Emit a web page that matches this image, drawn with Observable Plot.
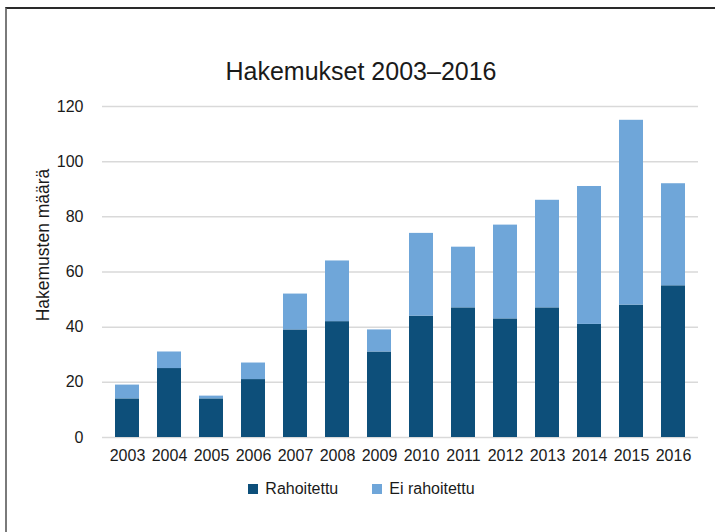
<!DOCTYPE html>
<html>
<head>
<meta charset="utf-8">
<script src="https://cdn.jsdelivr.net/npm/d3@7"></script>
<script src="https://cdn.jsdelivr.net/npm/@observablehq/plot@0.6"></script>
<style>
  html, body { margin: 0; padding: 0; background: #fff; overflow: hidden; }
  body { font-family: "Liberation Sans", Arial, sans-serif; }
  #wrap { position: relative; width: 715px; height: 532px; overflow: hidden; background: #fff; }
  #frame { position: absolute; left: 5px; top: 7px; width: 710px; height: 525px;
           border-top: 2px solid #2a2a2a; border-left: 2px solid #7a7a7a; box-sizing: border-box; }
  #title { position: absolute; left: 0; width: 722px; top: 57px; text-align: center;
           font-size: 25px; color: #1a1a1a; line-height: normal; }
  #chart { position: absolute; left: 0; top: 90px; }
  #legend { position: absolute; left: 0; top: 480px; width: 715px; display: flex; justify-content: center;
            font-size: 16px; color: #1a1a1a; padding-left: 8px; box-sizing: border-box; }
  .item { display: flex; align-items: center; margin: 0 17px; }
  .sw { width: 10px; height: 10px; margin-right: 7px; }
</style>
</head>
<body>
<div id="wrap">
  <div id="frame"></div>
  <div id="title">Hakemukset 2003–2016</div>
  <div id="chart"></div>
  <div id="legend"></div>
</div>
<script>
const years = ["2003","2004","2005","2006","2007","2008","2009","2010","2011","2012","2013","2014","2015","2016"];
const funded    = [14, 25, 14, 21, 39, 42, 31, 44, 47, 43, 47, 41, 48, 55];
const notFunded = [ 5,  6,  1,  6, 13, 22,  8, 30, 22, 34, 39, 50, 67, 37];
const seriesNames = ["Rahoitettu", "Ei rahoitettu"];
const seriesColors = ["#0d4f7a", "#6fa6d9"];
const yTicks = [0, 20, 40, 60, 80, 100, 120];
const yLabel = "Hakemusten määrä";

const table = [];
years.forEach((y, i) => {
  table.push({year: y, series: seriesNames[0], value: funded[i]});
  table.push({year: y, series: seriesNames[1], value: notFunded[i]});
});

const chart = Plot.plot({
  width: 715,
  height: 380,
  marginTop: 16,
  marginBottom: 33,
  marginLeft: 102,
  marginRight: 17,
  style: {fontFamily: "'Liberation Sans', Arial, sans-serif", fontSize: "16px", color: "#1a1a1a", background: "transparent"},
  x: {domain: years, paddingInner: 0.42, paddingOuter: 0.21, label: null},
  y: {domain: [0, 120], label: null},
  color: {domain: seriesNames, range: seriesColors},
  marks: [
    Plot.gridY(yTicks, {stroke: "#d9d9d9", strokeOpacity: 1, strokeWidth: 1.5}),
    Plot.barY(table, Plot.stackY({order: seriesNames, x: "year", y: "value", fill: "series"})),
    Plot.axisX({tickSize: 0, tickPadding: 12, fontSize: 16, fill: "#1a1a1a"}),
    Plot.axisY(yTicks, {tickSize: 0, tickPadding: 19, fontSize: 16, fill: "#1a1a1a"}),
    Plot.text([yLabel], {text: d => d, frameAnchor: "left", textAnchor: "middle", rotate: -90, dx: -59, dy: -27, fontSize: 17.5, fill: "#1a1a1a"})
  ]
});
document.getElementById("chart").appendChild(chart);

const legend = document.getElementById("legend");
seriesNames.forEach((n, i) => {
  const it = document.createElement("div");
  it.className = "item";
  const sw = document.createElement("div");
  sw.className = "sw";
  sw.style.background = seriesColors[i];
  const t = document.createElement("span");
  t.textContent = n;
  it.appendChild(sw); it.appendChild(t);
  legend.appendChild(it);
});
</script>
</body>
</html>
